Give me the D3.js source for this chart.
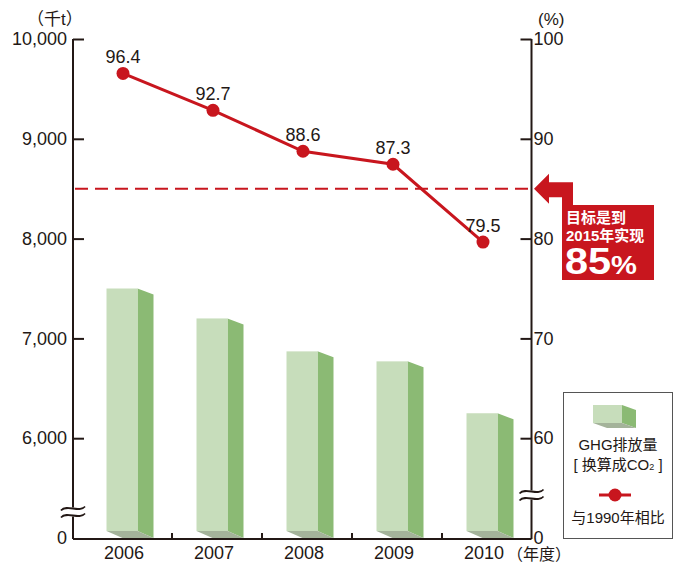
<!DOCTYPE html>
<html>
<head>
<meta charset="utf-8">
<script src="https://cdn.jsdelivr.net/npm/d3@7"></script>
<style>
body { margin: 0; background: #fff; }
text { font-family: "Liberation Sans", Arial, "Noto Sans CJK SC", sans-serif; fill: #231815; }
.cjk { font-family: "Liberation Sans", "Noto Sans CJK SC", sans-serif; }
</style>
</head>
<body>
<svg id="chart" width="675" height="564"></svg>
<script>
// data
const years = ["2006", "2007", "2008", "2009", "2010"];
const ghg = [7500, 7200, 6870, 6770, 6250];          // 千t
const ratio = [96.4, 92.7, 88.6, 87.3, 79.5];        // % vs 1990
const leftTicks = [6000, 7000, 8000, 9000, 10000];
const rightTicks = [60, 70, 80, 90, 100];
const target = 85;

const red = "#c8161e",
    front = "#c7ddbb",
    side = "#8bba74",
    floor = "#a4b39a",
    ink = "#231815";

const svg = d3.select("#chart");

const xL = 73, xR = 531.5;

const x = d3.scaleBand().domain(years).range([82, 532]);
const y = d3.scaleLinear().domain([5000, 10000]).range([538, 39]);
const yr = d3.scaleLinear().domain([50, 100]).range([538, 39]);
const base = y(5000);

// bars (pseudo 3D boxes)
const depth = 16, slant = 6, fw = 31;
const bars = svg.append("g");
years.forEach((yr_, i) => {
    const cx = x(yr_) + x.bandwidth() / 2;
    const x0 = cx - 20.5, x1 = x0 + fw, top = y(ghg[i]);
    bars.append("polygon")
        .attr("points", [[x1, top], [x1 + depth, top + slant], [x1 + depth, base], [x1, base - 7]].join(" "))
        .attr("fill", side);
    bars.append("rect")
        .attr("x", x0).attr("y", top)
        .attr("width", fw).attr("height", base - 7 - top)
        .attr("fill", front);
    bars.append("polygon")
        .attr("points", [[x0, base - 7], [x1, base - 7], [x1 + depth, base], [x0 + depth, base]].join(" "))
        .attr("fill", floor);
});

// target dashed line
svg.append("line")
    .attr("x1", xL + 2).attr("x2", xR)
    .attr("y1", yr(target)).attr("y2", yr(target))
    .attr("stroke", red).attr("stroke-width", 2)
    .attr("stroke-dasharray", "13,7");

// axes
const axL = d3.axisLeft(y).tickValues(leftTicks).tickSize(-11).tickPadding(6)
    .tickFormat(d3.format(","));
const gL = svg.append("g").attr("transform", `translate(${xL},0)`).call(axL);
gL.select(".domain").remove();
gL.selectAll("line").attr("stroke", ink).attr("stroke-width", 2);
gL.selectAll("text").style("font-size", "18px").attr("fill", ink);

const axR = d3.axisRight(yr).tickValues(rightTicks).tickSize(-11).tickPadding(2);
const gR = svg.append("g").attr("transform", `translate(${xR},0)`).call(axR);
gR.select(".domain").remove();
gR.selectAll("line").attr("stroke", ink).attr("stroke-width", 2);
gR.selectAll("text").style("font-size", "18px").attr("fill", ink);

const axisLines = svg.append("g").attr("stroke", ink).attr("stroke-width", 2).attr("fill", "none");
axisLines.append("line").attr("x1", xL).attr("x2", xL).attr("y1", y(10000)).attr("y2", base + 1);
axisLines.append("line").attr("x1", xR).attr("x2", xR).attr("y1", yr(100)).attr("y2", base + 1);
axisLines.append("line").attr("x1", xL).attr("x2", xR).attr("y1", base + 1).attr("y2", base + 1);
// small ticks between categories
years.slice(1).forEach(d => {
    axisLines.append("line").attr("x1", x(d)).attr("x2", x(d)).attr("y1", base + 1).attr("y2", base - 5);
});

// zero labels
svg.append("text").attr("x", xL - 6).attr("y", base).attr("dy", "0.32em")
    .attr("text-anchor", "end").style("font-size", "18px").text("0");
svg.append("text").attr("x", xR + 2).attr("y", base).attr("dy", "0.32em")
    .style("font-size", "18px").text("0");

// axis break marks
function axisBreak(cx, cy) {
    const w = 12, g = 7;
    const wave = (yy) => `M${cx - w},${yy + 2} C${cx - 6},${yy - 5} ${cx + 6},${yy + 5} ${cx + w},${yy - 2}`;
    svg.append("rect").attr("x", cx - 3).attr("y", cy - g / 2 - 1).attr("width", 6).attr("height", g + 2).attr("fill", "#fff");
    svg.append("path").attr("d", wave(cy - g / 2)).attr("fill", "none").attr("stroke", ink).attr("stroke-width", 1.8);
    svg.append("path").attr("d", wave(cy + g / 2)).attr("fill", "none").attr("stroke", ink).attr("stroke-width", 1.8);
}
axisBreak(xL, 512);
axisBreak(xR, 495);

// x labels
svg.append("g").selectAll("text").data(years).join("text")
    .attr("x", d => x(d) + x.bandwidth() / 2 - 3)
    .attr("y", 559)
    .attr("text-anchor", "middle")
    .style("font-size", "18px")
    .text(d => d);
svg.append("text").attr("class", "cjk").attr("x", 507).attr("y", 560)
    .style("font-size", "16px").text("（年度）");

// unit labels
svg.append("text").attr("class", "cjk").attr("x", 27).attr("y", 25)
    .style("font-size", "17px").text("（千t）");
svg.append("text").attr("x", 538).attr("y", 25)
    .style("font-size", "17px").text("(%)");

// ratio line
const pts = years.map((d, i) => [x(d) + x.bandwidth() / 2 - 4, yr(ratio[i]) - 1.5]);
svg.append("path")
    .attr("d", d3.line()(pts))
    .attr("fill", "none").attr("stroke", red).attr("stroke-width", 3);
svg.append("g").selectAll("circle").data(pts).join("circle")
    .attr("cx", d => d[0]).attr("cy", d => d[1]).attr("r", 6.5)
    .attr("fill", red);
svg.append("g").selectAll("text").data(pts).join("text")
    .attr("x", d => d[0]).attr("y", d => d[1] - 10)
    .attr("text-anchor", "middle")
    .style("font-size", "18px")
    .text((d, i) => ratio[i].toFixed(1));

// target callout
const tx = xR + 2.5, ty = yr(target);
svg.append("polygon")
    .attr("points", [
        [tx, ty], [549, ty - 15], [549, ty - 6.5], [573, ty - 6.5], [573, 205],
        [654, 205], [654, 280], [562, 280], [562, ty + 8.5], [549, ty + 8.5], [549, ty + 15]
    ].join(" "))
    .attr("fill", red);
const co = svg.append("g").attr("class", "cjk").style("font-weight", "bold");
co.append("text").attr("x", 566).attr("y", 223).style("font-size", "15px").style("fill", "#fff").text("目标是到");
co.append("text").attr("x", 566).attr("y", 241).style("font-size", "15px").style("fill", "#fff").text("2015年实现");
const big = co.append("text").attr("x", 565).attr("y", 274).style("fill", "#fff")
    .attr("textLength", 72).attr("lengthAdjust", "spacingAndGlyphs");
big.append("tspan").style("font-size", "37px").style("fill", "#fff").text("85");
big.append("tspan").style("font-size", "26px").style("fill", "#fff").text("%");

// legend
const lg = svg.append("g");
lg.append("rect").attr("x", 563.5).attr("y", 392.5).attr("width", 109).attr("height", 146)
    .attr("fill", "#fff").attr("stroke", "#555").attr("stroke-width", 1);
lg.append("polygon").attr("points", [[622, 405], [636, 410], [636, 428], [622, 423]].join(" ")).attr("fill", side);
lg.append("rect").attr("x", 593).attr("y", 405).attr("width", 29).attr("height", 18).attr("fill", front);
lg.append("polygon").attr("points", [[593, 423], [622, 423], [636, 428], [607, 428]].join(" ")).attr("fill", floor);
lg.append("text").attr("class", "cjk").attr("x", 618).attr("y", 450).attr("text-anchor", "middle")
    .style("font-size", "15px").text("GHG排放量");
const t2 = lg.append("text").attr("class", "cjk").attr("x", 618).attr("y", 470).attr("text-anchor", "middle")
    .style("font-size", "15px");
t2.append("tspan").text("[ 换算成CO");
t2.append("tspan").style("font-size", "9px").text("2");
t2.append("tspan").text(" ]");
lg.append("line").attr("x1", 599).attr("x2", 631).attr("y1", 495).attr("y2", 495)
    .attr("stroke", red).attr("stroke-width", 3);
lg.append("circle").attr("cx", 615).attr("cy", 495).attr("r", 6.5).attr("fill", red);
lg.append("text").attr("class", "cjk").attr("x", 618).attr("y", 523).attr("text-anchor", "middle")
    .style("font-size", "15px").text("与1990年相比");
</script>
</body>
</html>
